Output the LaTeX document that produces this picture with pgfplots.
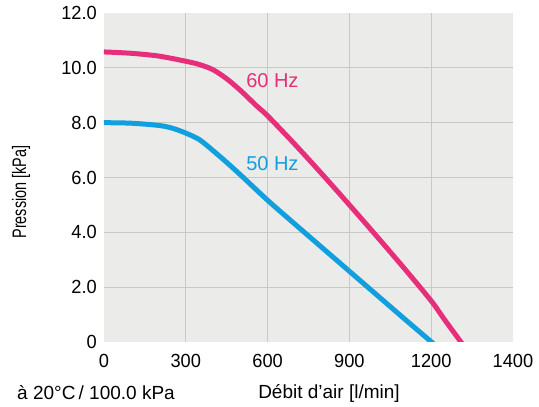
\documentclass[border=0pt]{standalone}
\usepackage{fontspec}
\setmainfont{Liberation Sans}
\newfontfamily\condfont{Liberation Sans}[FakeStretch=0.96]
\newfontfamily\narrowfont{Liberation Sans}[FakeStretch=0.74]
\usepackage{pgfplots}
\pgfplotsset{compat=1.18}
\definecolor{pinkc}{RGB}{230,46,123}
\definecolor{bluec}{RGB}{18,159,222}
\definecolor{bgc}{RGB}{235,235,233}
\definecolor{gridc}{RGB}{200,200,198}
\begin{document}
\fontsize{19}{22}\selectfont
\begin{tikzpicture}
\useasboundingbox (0,0) rectangle (539pt,407pt);
\begin{axis}[
 at={(104pt,65pt)}, anchor=south west,
 scale only axis, width=409pt, height=329pt,
 xmin=0, xmax=1500, ymin=0, ymax=12,
 axis line style={draw=none},
 axis background/.style={fill=bgc},
 xtick={0,300,600,900,1200,1500},
 xticklabels={0,300,600,900,1200,1400},
 ytick={0,2,4,6,8,10,12},
 yticklabels={0,2.0,4.0,6.0,8.0,10.0,12.0},
 minor xtick={300,600,900,1200},
 minor ytick={2,4,6,8,10},
 major tick length=0pt, minor tick length=0pt,
 xmajorgrids=false, ymajorgrids=false,
 xminorgrids=true, yminorgrids=true,
 minor grid style={gridc, line width=1pt},
 /pgf/number format/assume math mode=true,
 tick label style={font=\condfont\fontsize{19}{22}\selectfont, inner sep=0pt},
 xticklabel style={anchor=north, yshift=-12.5pt},
 yticklabel style={anchor=east, xshift=-7pt},
 clip=true,
]
\addplot[pinkc, line width=5pt, smooth, tension=0.5] coordinates {
 (-20,10.58) (0,10.58) (100,10.53) (200,10.43) (300,10.24) (350,10.12) (400,9.93) (450,9.6) (500,9.18)
 (561,8.6) (600,8.25) (700,7.21) (800,6.12) (900,5.0) (1000,3.86) (1100,2.7)
 (1200,1.5) (1250,0.8) (1309,0) (1330,-0.3)
};
\addplot[bluec, line width=5pt, smooth, tension=0.5] coordinates {
 (-20,8.0) (0,8.0) (100,7.98) (200,7.9) (250,7.8) (300,7.62) (350,7.38) (400,6.98) (450,6.55) (500,6.1)
 (600,5.17) (700,4.3) (800,3.44) (900,2.58) (1000,1.72) (1100,0.86) (1201,0) (1230,-0.25)
};
\node[anchor=west, text=pinkc, inner sep=0pt, font=\fontsize{20}{22}\selectfont] at (axis cs:521,9.55) {60 Hz};
\node[anchor=west, text=bluec, inner sep=0pt, font=\fontsize{20}{22}\selectfont] at (axis cs:521,6.5) {50 Hz};
\end{axis}
\node[rotate=90, inner sep=0pt, font=\narrowfont\fontsize{19.5}{22}\selectfont] at (21pt,215pt) {Pression [kPa]};
\node[inner sep=0pt] at (96pt,14pt) {à 20°C\,/ 100.0 kPa};
\node[inner sep=0pt] at (329pt,14pt) {Débit d’air [l/min]};
\end{tikzpicture}
\end{document}
